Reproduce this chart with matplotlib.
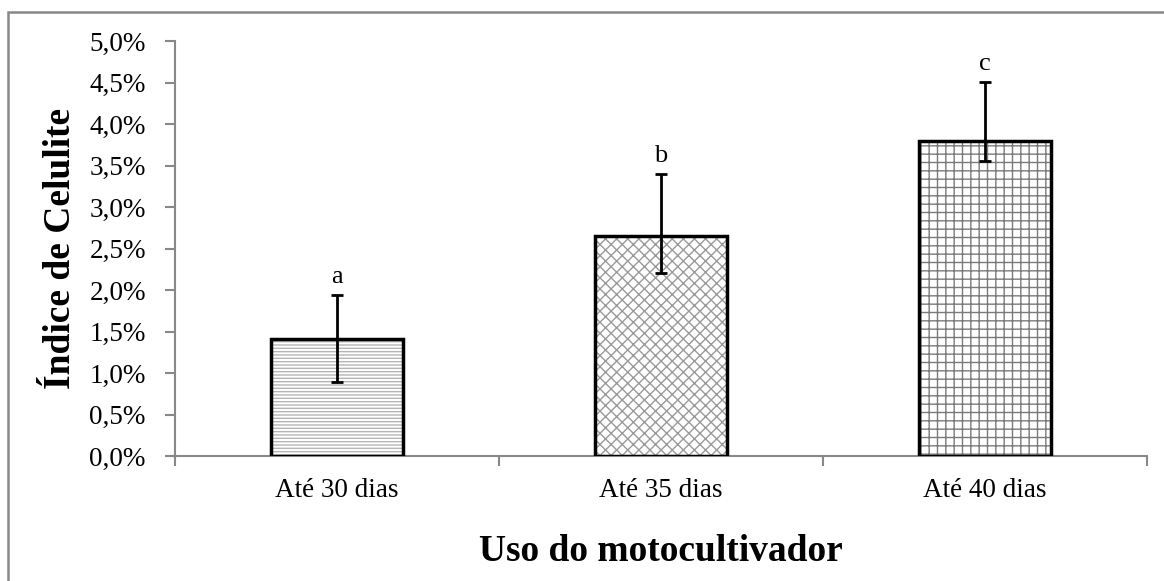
import matplotlib
matplotlib.use("Agg")
import matplotlib.pyplot as plt
from matplotlib.patches import Rectangle
from matplotlib.ticker import FuncFormatter, FixedLocator
import numpy as np

categories = ["Até 30 dias", "Até 35 dias", "Até 40 dias"]
values = [1.41, 2.65, 3.80]
err_low = [0.52, 0.44, 0.25]
err_high = [0.53, 0.75, 0.71]
letters = ["a", "b", "c"]
hatches = ["-----", "xxx", "++"]
hatch_colors = ["#b5b5b5", "#9a9a9a", "#7a7a7a"]
yticks = [0, 0.5, 1.0, 1.5, 2.0, 2.5, 3.0, 3.5, 4.0, 4.5, 5.0]

plt.rcParams['font.family'] = ['Liberation Serif', 'DejaVu Serif']
plt.rcParams['hatch.linewidth'] = 1.0

fig = plt.figure(figsize=(11.64, 5.81), dpi=100)
ax = fig.add_axes([175/1164, 1-456/581, (1147-175)/1164, (456-41)/581])

x = np.arange(len(categories))
w = 0.41
for i in range(len(categories)):
    ax.bar(x[i], values[i], width=w, color="white", edgecolor=hatch_colors[i],
           hatch=hatches[i], linewidth=0, zorder=2)
ax.bar(x, values, width=w, color="none", edgecolor="black", linewidth=2.5, zorder=3)
ax.errorbar(x, values, yerr=[err_low, err_high], fmt="none", ecolor="black",
            elinewidth=2, capsize=4.5, capthick=2, zorder=4)
for i in range(len(categories)):
    ax.text(x[i], values[i] + err_high[i] + 0.08, letters[i], ha="center", va="bottom",
            fontsize=19)

ax.set_xlim(-0.5, 2.5)
ax.set_ylim(0, 5.0)
ax.set_yticks(yticks)
ax.yaxis.set_major_formatter(FuncFormatter(lambda v, p: f"{v:.1f}%".replace(".", ",")))
ax.set_xticks(x)
ax.set_xticklabels(categories)
ax.xaxis.set_minor_locator(FixedLocator([-0.5, 0.5, 1.5, 2.5]))
ax.tick_params(axis="x", which="major", length=0, labelsize=19.5, pad=16)
ax.tick_params(axis="x", which="minor", length=7, color="#888888", width=1.5, direction="out")
ax.tick_params(axis="y", length=7, color="#888888", width=1.5, labelsize=19.5, pad=14)
for s in ["top", "right"]:
    ax.spines[s].set_visible(False)
for s in ["left", "bottom"]:
    ax.spines[s].set_color("#888888")
    ax.spines[s].set_linewidth(1.5)

ax.set_ylabel("Índice de Celulite", fontsize=27, fontweight="bold", labelpad=8)
ax.set_xlabel("Uso do motocultivador", fontsize=27, fontweight="bold", labelpad=22)

fig.patches.append(Rectangle((8/1164, -0.05), 1.05, 1-12/581+0.05, transform=fig.transFigure,
                             fill=False, edgecolor="#888888", linewidth=1.8))

fig.savefig("out.png", dpi=100)
